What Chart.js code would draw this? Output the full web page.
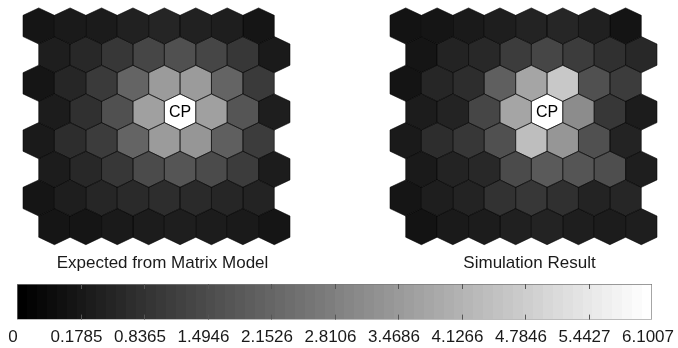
<!DOCTYPE html>
<html>
<head>
<meta charset="utf-8">
<script src="https://cdn.jsdelivr.net/npm/chart.js@4.4.1/dist/chart.umd.min.js"></script>
<style>
  html, body { margin: 0; padding: 0; background: #fff; }
  body { width: 678px; height: 348px; position: relative; overflow: hidden; }
  canvas { position: absolute; }
  #expected { left: 21px; top: 6px; }
  #simulated { left: 388px; top: 6px; }
  #colorbar { left: 0; top: 280px; }
</style>
</head>
<body>
<canvas id="expected" width="283" height="270"></canvas>
<canvas id="simulated" width="283" height="270"></canvas>
<canvas id="colorbar" width="678" height="68"></canvas>
<script>
/*------------------------ DATA ---------------------------------*/

const tickLabels = [0, 0.1785, 0.8365, 1.4946, 2.1526, 2.8106, 3.4686, 4.1266, 4.7846, 5.4427, 6.1007]

// rows top to bottom, odd rows sit half a cell to the right
const expectedRows = [
    [0.15, 0.18, 0.22, 0.37, 0.48, 0.37, 0.30, 0.15],
    [0.30, 0.55, 0.94, 1.33, 1.59, 1.33, 0.94, 0.18],
    [0.15, 0.50, 1.02, 2.10, 3.52, 3.52, 2.10, 1.02],
    [0.24, 0.76, 1.59, 3.65, 6.10, 3.65, 1.71, 0.30],
    [0.18, 0.68, 1.07, 2.10, 3.52, 3.39, 1.97, 1.07],
    [0.24, 0.55, 0.94, 1.46, 1.71, 1.46, 1.07, 0.24],
    [0.15, 0.30, 0.50, 0.60, 0.68, 0.60, 0.50, 0.42],
    [0.15, 0.15, 0.18, 0.24, 0.30, 0.24, 0.18, 0.15]
]

const simulatedRows = [
    [0.13, 0.15, 0.18, 0.30, 0.42, 0.50, 0.35, 0.14],
    [0.15, 0.42, 0.55, 1.07, 1.33, 1.07, 0.76, 0.55],
    [0.14, 0.50, 0.68, 1.97, 3.78, 4.68, 1.59, 1.07],
    [0.24, 0.42, 1.33, 3.78, 6.10, 3.13, 0.94, 0.24],
    [0.18, 0.68, 0.94, 1.59, 4.42, 3.39, 1.59, 0.42],
    [0.18, 0.42, 0.55, 1.46, 1.84, 1.71, 1.53, 0.30],
    [0.15, 0.30, 0.42, 0.81, 0.94, 0.76, 0.42, 0.50],
    [0.13, 0.18, 0.24, 0.35, 0.42, 0.30, 0.24, 0.30]
]

const cpRow = 3
const cpCol = 4
const cpLabel = 'CP'

/*---------------------------------------------------------------*/

const fontFamily = '"Liberation Sans", Arial, Helvetica, sans-serif'

// value -> position on the colour bar (0..1), through the tick labels
function toFraction(v) {
    for (let i = 1; i < tickLabels.length; i++) {
        if (v <= tickLabels[i]) {
            const t = (v - tickLabels[i - 1]) / (tickLabels[i] - tickLabels[i - 1])
            return (i - 1 + t) / (tickLabels.length - 1)
        }
    }
    return 1
}

function grayOf(v) {
    const g = Math.round(255 * Math.max(0, toFraction(v)))
    return `rgb(${g},${g},${g})`
}

/*------------------------ HEX GRIDS ---------------------------------*/

const hexPlugin = {
    id: 'hexCells',
    afterDatasetsDraw(chart) {
        const ctx = chart.ctx
        const xs = chart.scales.x
        const ys = chart.scales.y
        const a = Math.abs(xs.getPixelForValue(0.5) - xs.getPixelForValue(0))
        const s = Math.abs(ys.getPixelForValue(1) - ys.getPixelForValue(0))
        const r = s * 0.63
        const h = s - r
        const cells = chart.data.datasets[0].data
        const els = chart.getDatasetMeta(0).data

        const hexPath = (el) => {
            ctx.beginPath()
            ctx.moveTo(el.x, el.y - r)
            ctx.lineTo(el.x + a, el.y - h)
            ctx.lineTo(el.x + a, el.y + h)
            ctx.lineTo(el.x, el.y + r)
            ctx.lineTo(el.x - a, el.y + h)
            ctx.lineTo(el.x - a, el.y - h)
            ctx.closePath()
        }

        ctx.save()
        els.forEach((el, i) => {
            hexPath(el)
            ctx.fillStyle = grayOf(cells[i].v)
            ctx.fill()
        })
        ctx.strokeStyle = 'rgba(0,0,0,0.55)'
        ctx.lineWidth = 1
        els.forEach((el) => {
            hexPath(el)
            ctx.stroke()
        })
        els.forEach((el, i) => {
            if (!cells[i].cp) return
            ctx.fillStyle = '#000'
            ctx.font = '16px ' + fontFamily
            ctx.textAlign = 'center'
            ctx.textBaseline = 'middle'
            ctx.fillText(cpLabel, el.x, el.y + 1)
        })
        ctx.restore()
    }
}

function hexChart(id, rows, title) {
    const cells = []
    rows.forEach((row, r) => {
        row.forEach((v, c) => {
            cells.push({ x: c + (r % 2) * 0.5, y: r, v: v, cp: r === cpRow && c === cpCol })
        })
    })

    return new Chart(document.getElementById(id), {
        type: 'scatter',
        data: { datasets: [{ data: cells, pointRadius: 0 }] },
        options: {
            responsive: false,
            animation: false,
            events: [],
            layout: { padding: 0 },
            scales: {
                x: { display: false, min: -0.564, max: 8.446 },
                y: { display: false, min: -0.697, max: 7.697, reverse: true }
            },
            plugins: {
                legend: { display: false },
                tooltip: { enabled: false },
                title: {
                    display: true,
                    text: title,
                    position: 'bottom',
                    color: '#1a1a1a',
                    font: { family: fontFamily, size: 17, weight: 'normal' },
                    padding: { top: 7, bottom: 2 }
                }
            }
        },
        plugins: [hexPlugin]
    })
}

const expectedChart = hexChart('expected', expectedRows, 'Expected from Matrix Model')
const simulatedChart = hexChart('simulated', simulatedRows, 'Simulation Result')

/*------------------------ COLOUR BAR ---------------------------------*/

function grayGradient(chart) {
    const area = chart.chartArea
    if (!area) return '#888'
    const grad = chart.ctx.createLinearGradient(area.left, 0, area.right, 0)
    const steps = 64
    for (let i = 0; i < steps; i++) {
        const g = Math.round(255 * i / (steps - 1))
        grad.addColorStop(i / steps, `rgb(${g},${g},${g})`)
        grad.addColorStop((i + 1) / steps, `rgb(${g},${g},${g})`)
    }
    return grad
}

const innerTicks = {
    id: 'innerTicks',
    afterDatasetsDraw(chart) {
        const { ctx, chartArea, scales } = chart
        ctx.save()
        ctx.strokeStyle = '#555'
        ctx.lineWidth = 1
        scales.x.ticks.forEach((t) => {
            if (t.value <= scales.x.min || t.value >= scales.x.max) return
            const x = Math.round(scales.x.getPixelForValue(t.value)) + 0.5
            ctx.beginPath()
            ctx.moveTo(x, chartArea.top)
            ctx.lineTo(x, chartArea.top + 5)
            ctx.moveTo(x, chartArea.bottom)
            ctx.lineTo(x, chartArea.bottom - 5)
            ctx.stroke()
        })
        ctx.restore()
    }
}

const colorbarChart = new Chart(document.getElementById('colorbar'), {
    type: 'bar',
    data: {
        labels: ['scale'],
        datasets: [{
            data: [[0, tickLabels.length - 1]],
            backgroundColor: (c) => grayGradient(c.chart),
            borderColor: '#7a7a7a',
            borderWidth: 1,
            borderSkipped: false,
            barPercentage: 1,
            categoryPercentage: 1
        }]
    },
    options: {
        indexAxis: 'y',
        responsive: false,
        animation: false,
        events: [],
        layout: { padding: { left: 17, right: 25, top: 4, bottom: 0 } },
        scales: {
            x: {
                min: 0,
                max: tickLabels.length - 1,
                grid: { display: false },
                border: { display: false },
                ticks: {
                    stepSize: 1,
                    autoSkip: false,
                    maxRotation: 0,
                    padding: 0,
                    labelOffset: -4,
                    color: '#1a1a1a',
                    font: { family: fontFamily, size: 17 },
                    callback: (v) => String(tickLabels[v])
                }
            },
            y: { display: false }
        },
        plugins: {
            legend: { display: false },
            tooltip: { enabled: false }
        }
    },
    plugins: [innerTicks]
})
</script>
</body>
</html>
